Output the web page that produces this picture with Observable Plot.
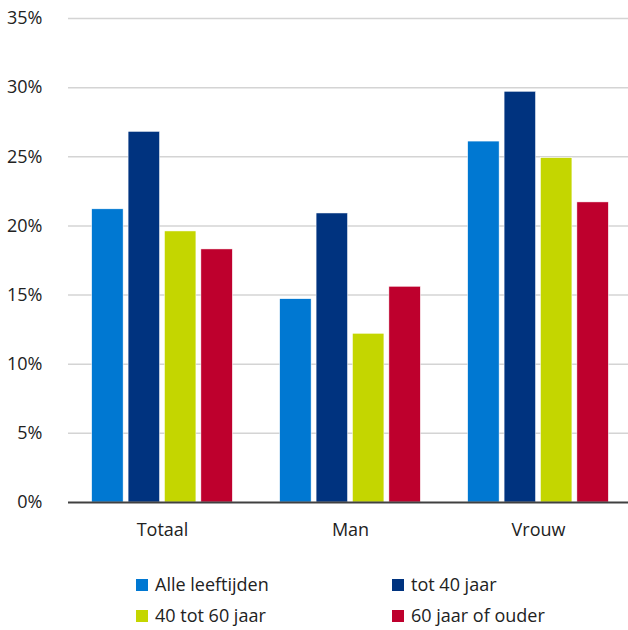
<!DOCTYPE html>
<html>
<head>
<meta charset="utf-8">
<script src="https://cdn.jsdelivr.net/npm/d3@7"></script>
<script src="https://cdn.jsdelivr.net/npm/@observablehq/plot@0.6"></script>
<style>
  body { margin: 0; background: #fff; font-family: "Open Sans", sans-serif; }
  #wrap { position: relative; width: 628px; height: 630px; }
  #legend { position: absolute; left: 136px; top: 569px; display: grid;
            grid-template-columns: 256px 236px; grid-auto-rows: 31px;
            font-size: 18px; color: #222; }
  .item { display: flex; align-items: center; gap: 7px; line-height: 31px; white-space: nowrap; }
  .sw { width: 12px; height: 12px; flex: none; }
</style>
</head>
<body>
<div id="wrap"><div id="chart"></div><div id="legend"></div></div>
<script>
const categories = ["Totaal", "Man", "Vrouw"];
const seriesNames = ["Alle leeftijden", "tot 40 jaar", "40 tot 60 jaar", "60 jaar of ouder"];
const seriesColors = ["#0078d2", "#00337f", "#c4d600", "#be002d"];
const alleLeeftijden = [21.2, 14.7, 26.1];
const tot40 = [26.8, 20.9, 29.7];
const van40tot60 = [19.6, 12.2, 24.9];
const vanaf60 = [18.3, 15.6, 21.7];
const yTicks = [0, 5, 10, 15, 20, 25, 30, 35];

const seriesValues = [alleLeeftijden, tot40, van40tot60, vanaf60];

// group layout in x units: each group occupies 1 unit centred on its index
const groupSpan = 0.748;           // fraction of the group used by the bars
const barStep = groupSpan / (4 - 0.137);
const barWidth = barStep * (1 - 0.137);

const data = [];
categories.forEach((cat, gi) => {
  seriesNames.forEach((s, si) => {
    const x1 = gi - groupSpan / 2 + si * barStep;
    data.push({cat, series: s, value: seriesValues[si][gi], x1, x2: x1 + barWidth});
  });
});

const chart = Plot.plot({
  width: 628,
  height: 550,
  marginLeft: 68,
  marginRight: -4,
  marginTop: 18,
  marginBottom: 48,
  style: {fontFamily: "Open Sans, sans-serif", fontSize: "18px", color: "#222", background: "white"},
  x: {domain: [-0.5, 2.5], axis: null},
  y: {domain: [0, 35], axis: null},
  color: {domain: seriesNames, range: seriesColors},
  marks: [
    Plot.ruleY(yTicks.filter(d => d > 0), {stroke: "#d4d4d4", strokeWidth: 1.5}),
    Plot.rectY(data, {x1: "x1", x2: "x2", y: "value", fill: "series", stroke: "white", strokeWidth: 0.5}),
    Plot.ruleY([0], {stroke: "#404040", strokeWidth: 2}),
    Plot.axisY({ticks: yTicks, tickFormat: d => d + "%", tickSize: 0, tickPadding: 26, fontSize: 18, fill: "#222", label: null}),
    Plot.axisX({ticks: [0, 1, 2], tickFormat: i => categories[i], tickSize: 0, tickPadding: 21, fontSize: 18, fill: "#222", label: null})
  ]
});
document.getElementById("chart").appendChild(chart);

const legend = document.getElementById("legend");
const order = [0, 1, 2, 3];
order.forEach(i => {
  const item = document.createElement("div");
  item.className = "item";
  const sw = document.createElement("span");
  sw.className = "sw";
  sw.style.background = seriesColors[i];
  const t = document.createElement("span");
  t.textContent = seriesNames[i];
  item.appendChild(sw);
  item.appendChild(t);
  legend.appendChild(item);
});
</script>
</body>
</html>
